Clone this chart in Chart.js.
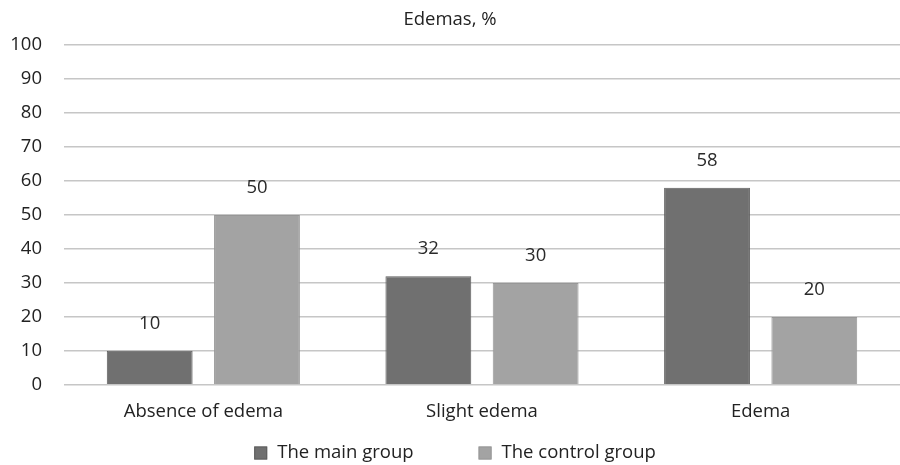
<!DOCTYPE html>
<html>
<head>
<meta charset="utf-8">
<script src="https://cdn.jsdelivr.net/npm/chart.js@4/dist/chart.umd.min.js"></script>
<style>
  html, body { margin: 0; padding: 0; background: #fff; }
  #wrap { width: 900px; height: 465px; position: relative; }
</style>
</head>
<body>
<div id="wrap"><canvas id="c" width="900" height="465"></canvas></div>
<script>
const categories = ['Absence of edema', 'Slight edema', 'Edema'];
const mainGroup = [10, 32, 58];
const controlGroup = [50, 30, 20];
const seriesNames = ['The main group', 'The control group'];
const yTicks = [0, 10, 20, 30, 40, 50, 60, 70, 80, 90, 100];

const FONT = "'Open Sans', 'Liberation Sans', sans-serif";
const SIZE = 18.5;

// Value labels above each bar
const valueLabels = {
  id: 'valueLabels',
  afterDatasetsDraw(chart) {
    const ctx = chart.ctx;
    ctx.save();
    ctx.font = SIZE + 'px ' + FONT;
    ctx.fillStyle = '#2a2a2a';
    ctx.textAlign = 'center';
    ctx.textBaseline = 'middle';
    chart.data.datasets.forEach((ds, i) => {
      chart.getDatasetMeta(i).data.forEach((bar, j) => {
        ctx.fillText(String(ds.data[j]), bar.x, bar.y - 27);
      });
    });
    ctx.restore();
  }
};

// Legend row along the bottom edge, with wide spacing between entries
const bottomLegend = {
  id: 'bottomLegend',
  afterDraw(chart) {
    const ctx = chart.ctx;
    const box = 13, gapText = 10, gapItem = 65, y = 453;
    ctx.save();
    ctx.font = SIZE + 'px ' + FONT;
    ctx.textBaseline = 'middle';
    ctx.textAlign = 'left';
    const items = chart.data.datasets.map(ds => ({
      label: ds.label, color: ds.backgroundColor, border: ds.borderColor,
      w: box + gapText + ctx.measureText(ds.label).width
    }));
    const total = items.reduce((s, it) => s + it.w, 0) + gapItem * (items.length - 1);
    let x = chart.width / 2 - total / 2 + 5;
    items.forEach(it => {
      ctx.fillStyle = it.color;
      ctx.fillRect(x, y - box / 2, box, box);
      ctx.strokeStyle = it.border;
      ctx.lineWidth = 1;
      ctx.strokeRect(x + 0.5, y - box / 2 + 0.5, box - 1, box - 1);
      ctx.fillStyle = '#222';
      ctx.fillText(it.label, x + box + gapText, y);
      x += it.w + gapItem;
    });
    ctx.restore();
  }
};

new Chart(document.getElementById('c'), {
  type: 'bar',
  data: {
    labels: categories,
    datasets: [
      { label: seriesNames[0], data: mainGroup, backgroundColor: '#707070', borderColor: '#5e5e5e', borderWidth: 1 },
      { label: seriesNames[1], data: controlGroup, backgroundColor: '#a3a3a3', borderColor: '#979797', borderWidth: 1 }
    ]
  },
  options: {
    responsive: false,
    animation: false,
    layout: { padding: { top: 9, right: 0, bottom: 34, left: 0 } },
    datasets: { bar: { categoryPercentage: 0.77, barPercentage: 0.8 } },
    plugins: {
      title: {
        display: true,
        text: 'Edemas, %',
        color: '#222',
        font: { family: FONT, size: SIZE, weight: 'normal' },
        padding: { top: 0, bottom: 14 }
      },
      legend: { display: false },
      tooltip: { enabled: false }
    },
    scales: {
      x: {
        grid: { display: false },
        border: { display: false },
        ticks: { color: '#222', font: { family: FONT, size: SIZE }, padding: 8 }
      },
      y: {
        min: 0,
        max: 100,
        afterFit(scale) { scale.width = 64; },
        afterBuildTicks(scale) { scale.ticks = yTicks.map(v => ({ value: v })); },
        grid: { color: '#c6c6c6', lineWidth: 1.5, drawTicks: false },
        border: { display: false },
        ticks: { color: '#222', font: { family: FONT, size: SIZE }, padding: 22 }
      }
    }
  },
  plugins: [valueLabels, bottomLegend]
});
</script>
</body>
</html>
